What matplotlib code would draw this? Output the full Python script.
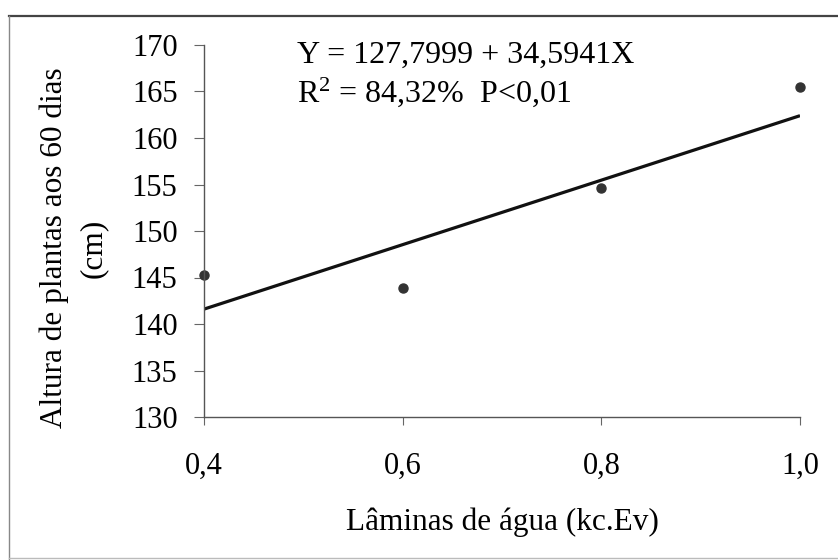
import matplotlib
matplotlib.use('Agg')
import matplotlib.pyplot as plt
from matplotlib.lines import Line2D

# water depth levels (kc.Ev) and plant height at 60 days (cm)
laminas = [0.4, 0.6, 0.8, 1.0]
altura = [145.3, 143.9, 154.6, 165.5]

# fitted regression line end points
fit_x = [0.4, 1.0]
fit_y = [141.6, 162.4]

x_ticks = [0.4, 0.6, 0.8, 1.0]
x_tick_labels = ['0,4', '0,6', '0,8', '1,0']
y_ticks = [130, 135, 140, 145, 150, 155, 160, 165, 170]

plt.rcParams['font.family'] = ['Liberation Serif', 'DejaVu Serif']
plt.rcParams['mathtext.fontset'] = 'custom'
plt.rcParams['mathtext.rm'] = 'Liberation Serif'
plt.rcParams['mathtext.default'] = 'regular'

W, H = 838, 560


def fx(px):
    return px / W


def fy(py):
    return 1 - py / H


def main():
    fig = plt.figure(figsize=(W / 100, H / 100), dpi=100)
    ax = fig.add_axes([fx(204), fy(417), fx(800) - fx(204), fy(45) - fy(417)])

    ax.plot(fit_x, fit_y, color='#111111', lw=2.3, solid_capstyle='butt')
    ax.plot(laminas, altura, 'o', color='#333333', ms=6.5, clip_on=False)

    ax.set_xlim(0.4, 1.0)
    ax.set_ylim(130, 170)
    ax.set_xticks(x_ticks)
    ax.set_xticklabels(x_tick_labels)
    ax.set_yticks(y_ticks)
    ax.tick_params(labelsize=22, width=0.8, color='#666666')
    ax.tick_params(axis='y', length=7, pad=12)
    ax.tick_params(axis='x', length=6, pad=19)
    for side in ['top', 'right']:
        ax.spines[side].set_visible(False)
    for side in ['left', 'bottom']:
        ax.spines[side].set_color('#555555')
        ax.spines[side].set_linewidth(1.0)

    # axis titles placed to match the scan
    fig.text(fx(502), fy(530), 'Lâminas de água (kc.Ev)', fontsize=22.5,
             ha='center', va='baseline')
    fig.text(fx(54), fy(248), 'Altura de plantas aos 60 dias', fontsize=22.5,
             rotation=90, ha='center', va='center')
    fig.text(fx(93), fy(248), '(cm)', fontsize=22.5,
             rotation=90, ha='center', va='center')

    ax.text(0.156, 0.9516, 'Y = 127,7999 + 34,5941X', transform=ax.transAxes,
            fontsize=23, va='baseline', ha='left')
    ax.text(0.156, 0.8468, 'R$^2$ = 84,32%  P<0,01', transform=ax.transAxes,
            fontsize=23, va='baseline', ha='left')

    # scanned frame: dark top edge, lighter left and bottom edges
    fig.add_artist(Line2D([fx(9), 1.0], [fy(16), fy(16)], color='#444444', lw=1.6))
    fig.add_artist(Line2D([fx(9), fx(9)], [fy(16), 0.0], color='#888888', lw=1.0))
    fig.add_artist(Line2D([fx(9), 1.0], [fy(558), fy(558)], color='#bbbbbb', lw=1.0))

    fig.savefig('out.png', dpi=100)


if __name__ == '__main__':
    main()
